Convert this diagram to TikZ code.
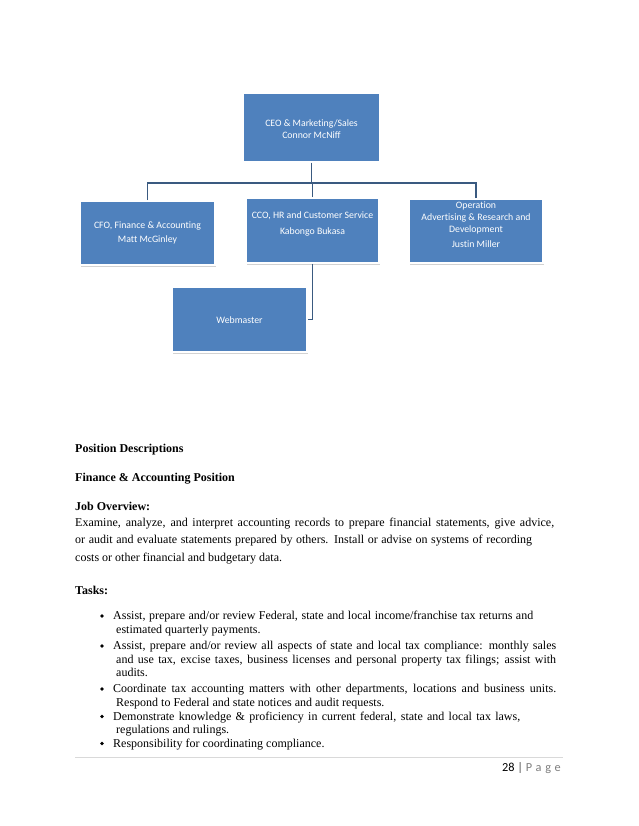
\documentclass[tikz,border=0pt]{standalone}
\usepackage{fontspec}
\setmainfont{Liberation Serif}
\newfontfamily\calibri[Ligatures=NoCommon]{Carlito}
\usetikzlibrary{shadows}
\definecolor{boxblue}{HTML}{4F81BD}
\definecolor{connblue}{HTML}{3A5A80}
\definecolor{rulegray}{HTML}{D9D9D9}
\definecolor{pagegray}{HTML}{7F7F7F}
\begin{document}
\begin{tikzpicture}[x=1pt,y=-1pt,
  orgbox/.style={draw=white, line width=1.5pt, fill=boxblue,
    drop shadow={shadow xshift=1pt, shadow yshift=-1.5pt, fill=black!35}, inner sep=0pt},
  boxtext/.style={text=white, font=\calibri\fontsize{9.8}{12.3}\selectfont, align=center, inner sep=0pt},
  conn/.style={draw=connblue, line width=1.8pt},
  body/.style={anchor=base west, inner sep=0pt, font=\fontsize{12}{14}\selectfont},
  head/.style={anchor=base west, inner sep=0pt, font=\fontsize{12}{14}\selectfont\bfseries},
  bul/.style={circle, fill=black, inner sep=0pt, minimum size=3.8pt}
]
\useasboundingbox[fill=white] (0,0) rectangle (638,826);

% org chart boxes
\node[orgbox, minimum width=137pt, minimum height=69pt] (ceo) at (311.5,127.5) {};
\node[orgbox, minimum width=135pt, minimum height=64pt] (cfo) at (147.5,233) {};
\node[orgbox, minimum width=133pt, minimum height=65pt] (cco) at (312.5,230.5) {};
\node[orgbox, minimum width=134pt, minimum height=64pt] (ops) at (476,231) {};
\node[orgbox, minimum width=135pt, minimum height=65pt] (web) at (239.5,319.5) {};

% box texts
\node[boxtext] (ceot) at (311.5,129) {CEO \& Marketing/Sales\\Connor McNiff};
\node[boxtext] (cfot) at (147.5,233) {CFO, Finance \& Accounting\\[1.5pt]Matt McGinley};
\node[boxtext] (ccot) at (312.5,224) {CCO, HR and Customer Service\\[3pt]Kabongo Bukasa};
\node[boxtext] (opst) at (476,224.5) {Operation\\Advertising \& Research and\\Development\\[2pt]Justin Miller};
\node[boxtext] (webt) at (239.5,320) {Webmaster};

% connectors
\coordinate (bus) at (312,183);
\draw[conn] (ceo.south) -- (ceo.south |- bus);
\draw[conn] (cfo.north) |- (bus);
\draw[conn] (ops.north) |- (bus);
\draw[conn] (cco.north) -- (cco.north |- bus);
\draw[conn] (cco.south) |- (web.east);

% text
\node[head] (pd) at (75,452) {Position Descriptions};
\node[head] (fa) at (75,481) {Finance \& Accounting Position};
\node[head] (jo) at (75,510) {Job Overview:};
\node[body] (p1) at (75,526) {\makebox[479pt][s]{Examine, analyze, and interpret accounting records to prepare financial statements, give advice,}};
\node[body] (p2) at (75,543.5) {\makebox[457pt][s]{or audit and evaluate statements prepared by others. Install or advise on systems of recording}};
\node[body] (p3) at (75,561) {costs or other financial and budgetary data.};
\node[head] (tk) at (75,594) {Tasks:};

\node[bul] (d1) at (102,616) {};
\node[body] (b1a) at (113,619.5) {\makebox[420pt][s]{Assist, prepare and/or review Federal, state and local income/franchise tax returns and}};
\node[body] (b1b) at (116,633) {estimated quarterly payments.};
\node[bul] (d2) at (102,646) {};
\node[body] (b2a) at (113,649.5) {\makebox[443pt][s]{Assist, prepare and/or review all aspects of state and local tax compliance: monthly sales}};
\node[body] (b2b) at (116,663) {\makebox[440pt][s]{and use tax, excise taxes, business licenses and personal property tax filings; assist with}};
\node[body] (b2c) at (116,676.5) {audits.};
\node[bul] (d3) at (102,689) {};
\node[body] (b3a) at (113,692.5) {\makebox[443pt][s]{Coordinate tax accounting matters with other departments, locations and business units.}};
\node[body] (b3b) at (116,706) {Respond to Federal and state notices and audit requests.};
\node[bul] (d4) at (102,716.5) {};
\node[body] (b4a) at (113,720) {\makebox[407pt][s]{Demonstrate knowledge \& proficiency in current federal, state and local tax laws,}};
\node[body] (b4b) at (116,733.5) {regulations and rulings.};
\node[bul] (d5) at (102,743.5) {};
\node[body] (b5a) at (113,747) {Responsibility for coordinating compliance.};

% footer
\draw[rulegray, line width=0.8pt] (75,757.5) -- (563,757.5);
\node[anchor=base east, inner sep=0pt, font=\calibri\fontsize{12.3}{14}\selectfont] (pg) at (561,771)
  {28 {\bfseries\color{pagegray}|} {\color{pagegray}\addfontfeature{LetterSpace=30}Page}};
\end{tikzpicture}
\end{document}
